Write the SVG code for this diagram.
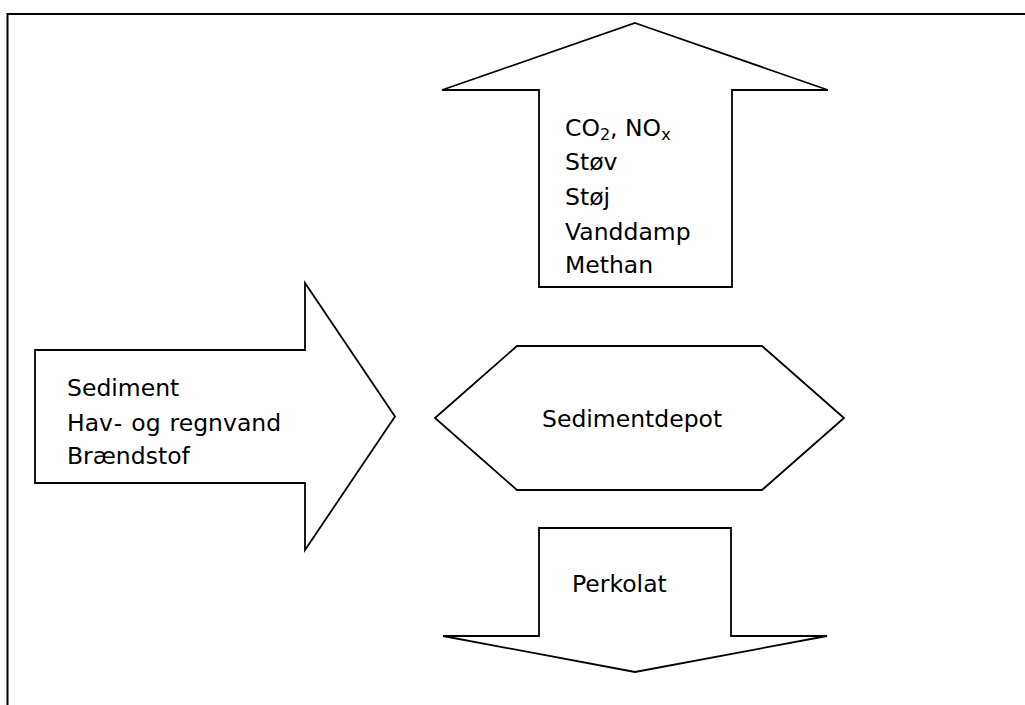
<svg xmlns="http://www.w3.org/2000/svg" width="1025" height="705" viewBox="0 0 1025 705">
<style>
.shape{fill:#fff;stroke:#000;stroke-width:1.8;stroke-linejoin:miter}
.frame{fill:none;stroke:#000;stroke-width:2}
text{font-family:"DejaVu Sans",Verdana,sans-serif;font-size:23.5px;fill:#000}
.sub{font-size:16px}
</style>
<rect width="1025" height="705" fill="#fff"/>
<g id="frame">
<path class="frame" d="M7.5 705 V14 H1025"/>
</g>
<g id="emissions">
<polygon class="shape" points="635,23 828,90 732,90 732,287 539,287 539,90 442,90"/>
<text x="565" y="136">CO<tspan class="sub" dy="4">2</tspan><tspan dy="-4">, NO</tspan><tspan class="sub" dy="4">x</tspan></text>
<text x="565" y="170">Støv</text>
<text x="565" y="205">Støj</text>
<text x="565" y="240">Vanddamp</text>
<text x="565" y="273">Methan</text>
</g>
<g id="inputs">
<polygon class="shape" points="35,350 305,350 305,283 395,416.5 305,550 305,483 35,483"/>
<text x="67" y="396">Sediment</text>
<text x="67" y="431" word-spacing="1.5">Hav<tspan dx="1.5">-</tspan> og regnvand</text>
<text x="67" y="464">Brændstof</text>
</g>
<g id="depot">
<polygon class="shape" points="435,418 517,346 762,346 844,418 762,490 517,490"/>
<text x="542" y="427">Sedimentdepot</text>
</g>
<g id="percolate">
<polygon class="shape" points="539,528 731,528 731,636 827,636 635,672 443,636 539,636"/>
<text x="572" y="592">Perkolat</text>
</g>
<g id="connectors"/>
</svg>
